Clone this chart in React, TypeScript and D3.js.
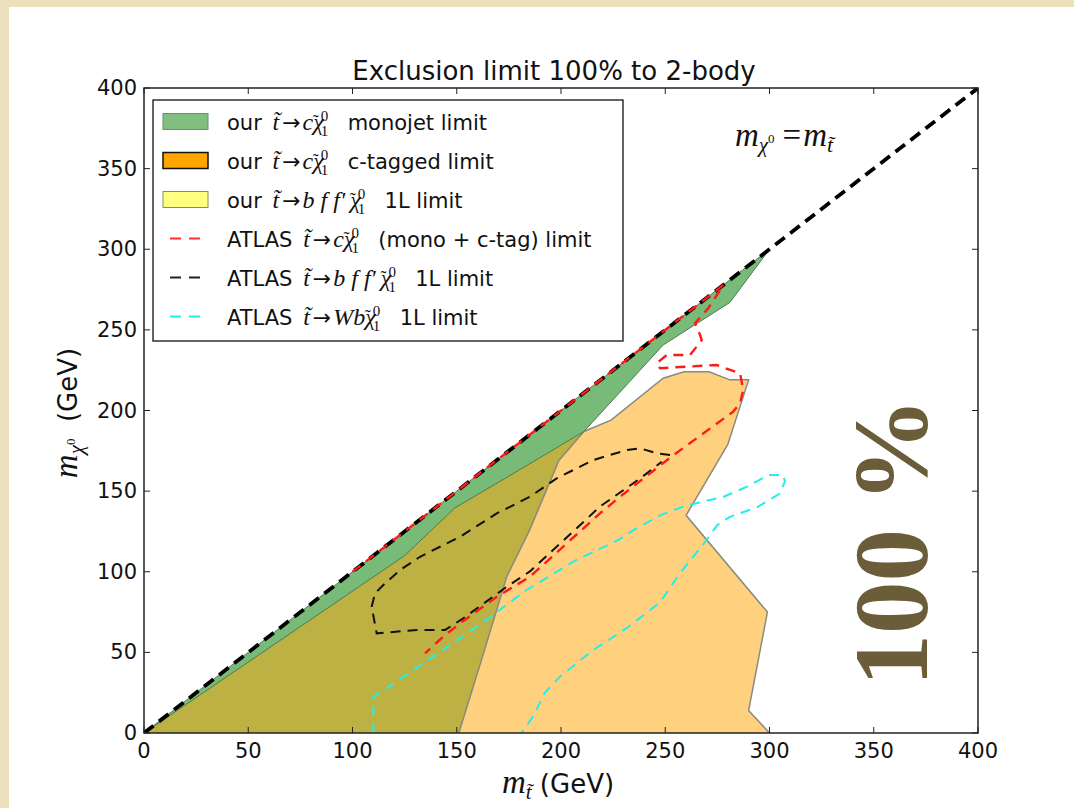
import React from "react";
import * as d3 from "d3";

const W = 1074;
const H = 808;

const tickValues = [0, 50, 100, 150, 200, 250, 300, 350, 400];
const diagonal: [number, number][] = [[0, 0], [400, 400]];
const greenBand: [number, number][] = [
  [0, 0], [300, 300], [281, 267], [249, 240.6], [211, 187], [185, 167], [149, 139.5], [125, 110], [0, 0],
];
const oliveRegion: [number, number][] = [
  [0, 0], [125, 110], [149, 139.5], [185, 167], [211, 187], [199, 169], [185, 126], [174, 97], [163, 50], [151, 0],
];
const orangeRegion: [number, number][] = [
  [151, 0], [163, 50], [174, 97], [185, 126], [199, 169], [211, 187], [224, 194], [249, 220], [259, 224],
  [271, 224], [281, 219], [290, 219], [280, 179], [260, 135], [299, 75], [290, 14], [300, 0],
];
const atlasC: [number, number][] = [
  [100, 100], [278, 278], [270.6, 263.4], [264.3, 254.1], [266.7, 246.8], [267.5, 243.7], [261.9, 234.4],
  [250.7, 234.4], [245.9, 229.3], [247.5, 226.2], [260.2, 227.2], [274.6, 228.2], [285.9, 223], [287.4, 212.7],
  [285.9, 204.5], [282.6, 199.3], [253.1, 171.5], [228.3, 146.5], [218.7, 136.2], [185.1, 96.9], [169.2, 84.5],
  [151.6, 68], [143.5, 59.7], [134.8, 49.4],
];
const atlasBff: [number, number][] = [
  [252.3, 172.4], [245.9, 173.5], [237.9, 176.6], [231.5, 175.5], [215.5, 169.3], [197.9, 157.9], [185.1, 146.5],
  [169.2, 136.2], [151.6, 121.7], [132.4, 109.3], [122.8, 101], [114.8, 91.8], [110.8, 86.6], [109.2, 78.3],
  [111.6, 61.8], [130.8, 63.9], [144.4, 63.9], [153.1, 71.1], [174, 90.7], [185.1, 100.2], [218.7, 140.4],
  [237.9, 157.8], [248.3, 168.2],
];
const atlasWb: [number, number][] = [
  [110, 0], [110, 22.5], [114, 25.6], [163, 69], [183.5, 88.7], [207, 107], [228, 120], [235, 126], [247.5, 135],
  [260, 141], [278, 146.5], [289, 152.6], [299.4, 160], [306.6, 160], [307.4, 156], [305, 148.5], [294, 140],
  [281, 134], [275, 129], [270, 120], [257, 99], [247.5, 81], [231.5, 65], [215.5, 51.5], [199.5, 35],
  [192, 24.6], [187, 11], [181, 0],
];

const SANS = "'DejaVu Sans', sans-serif";
const SERIF = "'Liberation Serif', 'DejaVu Serif', serif";

const x = d3.scaleLinear().domain([0, 400]).range([144, 978]);
const y = d3.scaleLinear().domain([0, 400]).range([733, 88]);
const line = d3.line<[number, number]>().x((d) => x(d[0])).y((d) => y(d[1]));

function Decay({ kind }: { kind: "c" | "bff" | "Wb" }) {
  const it = { fontFamily: SERIF, fontStyle: "italic" as const, fontSize: 24 };
  return (
    <>
      <tspan {...it} dx={4}>{"t\u0303"}</tspan>
      <tspan fontFamily={SANS} fontSize={22} dx={3}>{"\u2192"}</tspan>
      {kind === "c" && <tspan {...it} dx={2}>c</tspan>}
      {kind === "bff" && <tspan {...it} dx={2}>{"b f f\u2032"}</tspan>}
      {kind === "Wb" && <tspan {...it} dx={2}>Wb</tspan>}
      <tspan {...it} dx={kind === "bff" ? 5 : 0}>{"\u03c7"}</tspan>
      <tspan fontFamily={SERIF} fontSize={18} dx={-11} dy={-2}>{"\u02dc"}</tspan>
      <tspan fontFamily={SERIF} fontSize={15} dx={2} dy={-7}>0</tspan>
      <tspan fontFamily={SERIF} fontSize={15} dx={-7.5} dy={15}>1</tspan>
    </>
  );
}

const legendRows: { pre: string; kind: "c" | "bff" | "Wb"; post: string }[] = [
  { pre: "our ", kind: "c", post: "  monojet limit" },
  { pre: "our ", kind: "c", post: "  c-tagged limit" },
  { pre: "our ", kind: "bff", post: "  1L limit" },
  { pre: "ATLAS ", kind: "c", post: "  (mono + c-tag) limit" },
  { pre: "ATLAS ", kind: "bff", post: "  1L limit" },
  { pre: "ATLAS ", kind: "Wb", post: "  1L limit" },
];

export default function App() {
  const legendY0 = 121.5;
  const legendDy = 39;
  return (
    <svg
      width={W}
      height={H}
      style={{ position: "absolute", left: 0, top: 0, display: "block" }}
      fontFamily={SANS}
    >
      <defs>
        <clipPath id="plotclip">
          <rect x={144} y={88} width={834} height={645} />
        </clipPath>
      </defs>
      <rect x={0} y={0} width={W} height={H} fill="#ede1bd" />
      <rect x={9} y={7} width={W - 9} height={H - 7} fill="#ffffff" />

      <g clipPath="url(#plotclip)">
        <path d={line(oliveRegion) || ""} fill="#bcb142" stroke="#a39838" strokeWidth={1} />
        <path d={line(orangeRegion) || ""} fill="#ffd17f" stroke="#8a8a80" strokeWidth={1.5} />
        <path d={line(greenBand) || ""} fill="#78bb78" stroke="#4f7d4f" strokeWidth={1} />
        <path d={line(atlasWb) || ""} fill="none" stroke="#22eeee" strokeWidth={2} strokeDasharray="10 7" />
        <path d={line(atlasBff) || ""} fill="none" stroke="#111" strokeWidth={2} strokeDasharray="10 7" />
        <path d={line(diagonal) || ""} fill="none" stroke="#000" strokeWidth={3.8} strokeDasharray="12 7" />
        <path d={line(atlasC) || ""} fill="none" stroke="#ff1a1a" strokeWidth={2.4} strokeDasharray="10 7" />
      </g>

      {/* frame */}
      <rect x={144} y={88} width={834} height={645} fill="none" stroke="#222" strokeWidth={1.5} />
      {tickValues.map((v) => (
        <g key={"t" + v}>
          <line x1={x(v)} x2={x(v)} y1={733} y2={727} stroke="#222" strokeWidth={1} />
          <line x1={x(v)} x2={x(v)} y1={88} y2={94} stroke="#222" strokeWidth={1} />
          <line x1={144} x2={150} y1={y(v)} y2={y(v)} stroke="#222" strokeWidth={1} />
          <line x1={978} x2={972} y1={y(v)} y2={y(v)} stroke="#222" strokeWidth={1} />
          <text x={x(v)} y={758} textAnchor="middle" fontSize={21} fill="#111">{v}</text>
          <text x={137} y={y(v)} textAnchor="end" dominantBaseline="central" fontSize={21} fill="#111">{v}</text>
        </g>
      ))}

      {/* title */}
      <text x={554} y={80} textAnchor="middle" fontSize={26} fill="#111">Exclusion limit 100% to 2-body</text>

      {/* x label */}
      <text x={558} y={793} textAnchor="middle" fontSize={26} fill="#111">
        <tspan fontFamily={SERIF} fontStyle="italic" fontSize={33}>m</tspan>
        <tspan fontFamily={SERIF} fontStyle="italic" fontSize={21} dy={6}>{"t\u0303"}</tspan>
        <tspan dy={-6} style={{ whiteSpace: "pre" }}>{" (GeV)"}</tspan>
      </text>

      {/* y label */}
      <text transform="translate(77,413) rotate(-90)" textAnchor="middle" fontSize={26} fill="#111">
        <tspan fontFamily={SERIF} fontStyle="italic" fontSize={33}>m</tspan>
        <tspan fontFamily={SERIF} fontStyle="italic" fontSize={21} dy={6}>{"\u03c7"}</tspan>
        <tspan fontFamily={SERIF} fontSize={13} dy={-8}>0</tspan>
        <tspan dy={2} style={{ whiteSpace: "pre" }}>{"  (GeV)"}</tspan>
      </text>

      {/* diagonal annotation */}
      <text x={735} y={146} fontSize={33} fill="#111" fontFamily={SERIF} style={{ whiteSpace: "pre" }}>
        <tspan fontStyle="italic">m</tspan>
        <tspan fontStyle="italic" fontSize={21} dy={6}>{"\u03c7"}</tspan>
        <tspan fontSize={13} dy={-9}>0</tspan>
        <tspan dy={3} dx={8}>{"="}</tspan>
        <tspan fontStyle="italic" dx={2}>m</tspan>
        <tspan fontStyle="italic" fontSize={22} dy={6}>{"t\u0303"}</tspan>
      </text>

      {/* 100 % */}
      <text
        transform="translate(927,542) rotate(-90)"
        textAnchor="middle"
        fontFamily={SERIF}
        fontWeight="bold"
        fontSize={105}
        fill="#6b5c3a"
      >
        100 %
      </text>

      {/* legend */}
      <rect x={153} y={100} width={470} height={241} fill="#fff" stroke="#111" strokeWidth={1.3} />
      {legendRows.map((r, i) => {
        const cy = legendY0 + i * legendDy;
        let marker: React.ReactNode = null;
        if (i === 0) marker = <rect x={163} y={cy - 8} width={45} height={16} fill="#80bf80" stroke="#6a8f6a" strokeWidth={1} />;
        if (i === 1) marker = <rect x={163} y={cy - 8} width={45} height={16} fill="#ffa500" stroke="#111" strokeWidth={1.5} />;
        if (i === 2) marker = <rect x={163} y={cy - 8} width={45} height={16} fill="#ffff80" stroke="#8a8a60" strokeWidth={1} />;
        const col = i === 3 ? "#ff3030" : i === 4 ? "#222" : "#22eeee";
        if (i >= 3) marker = <line x1={170} x2={203} y1={cy} y2={cy} stroke={col} strokeWidth={2} strokeDasharray="11 8" />;
        return (
          <g key={"lg" + i}>
            {marker}
            <text x={227} y={cy + 8} fontSize={21} fill="#111" style={{ whiteSpace: "pre" }}>
              <tspan>{r.pre}</tspan>
              <Decay kind={r.kind} />
              <tspan dy={-6} dx={6}>{r.post}</tspan>
            </text>
          </g>
        );
      })}
    </svg>
  );
}
